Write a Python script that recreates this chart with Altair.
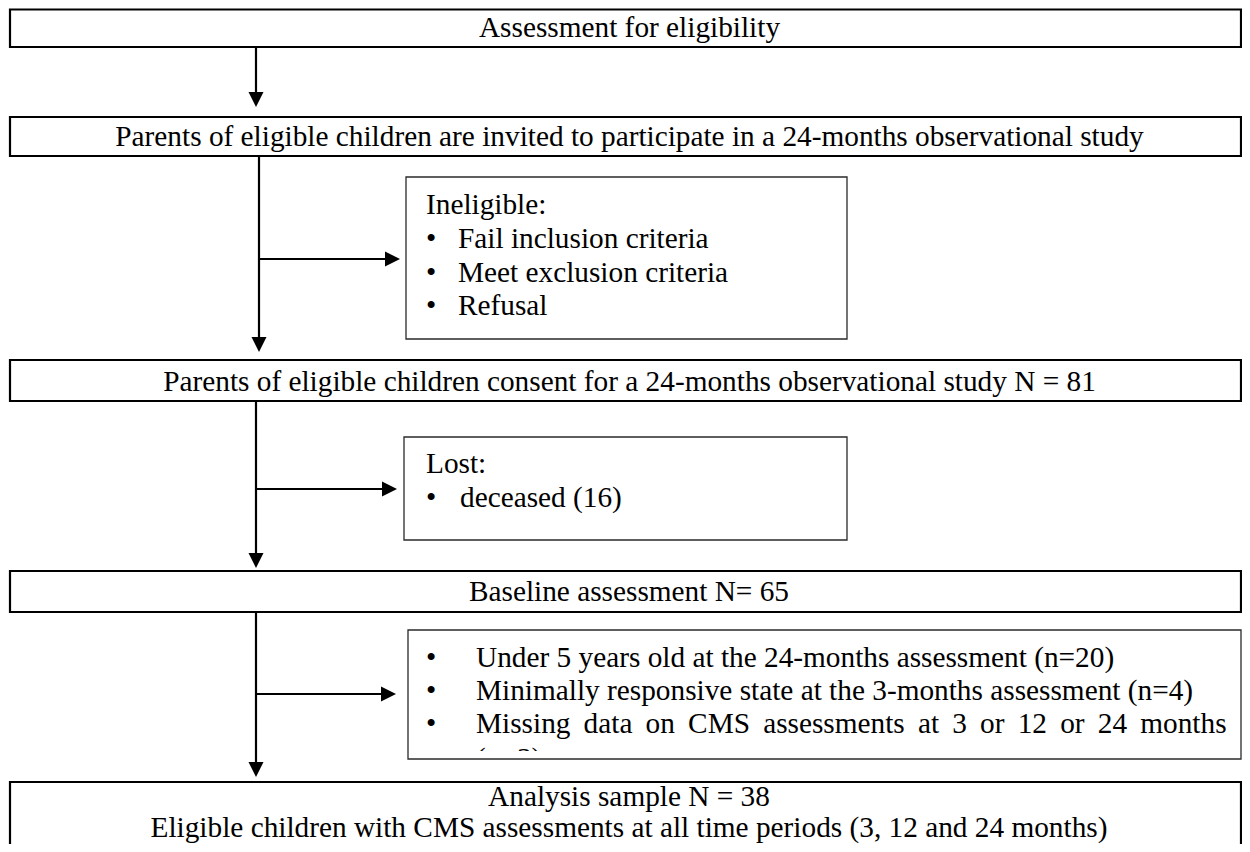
import altair as alt
import pandas as pd

FONT = "Liberation Serif"
FS = 29.3

# ---------------- content ----------------
main_labels = [
    "Assessment for eligibility",
    "Parents of eligible children are invited to participate in a 24-months observational study",
    "Parents of eligible children consent for a 24-months observational study N = 81",
    "Baseline assessment N= 65",
]
RIGHT = 1241  # right edge of the drawable page area
main_left = [10, 10, 10, 10]
main_right = [RIGHT, RIGHT, RIGHT, RIGHT]
main_top = [9.5, 117, 360, 571]
main_bottom = [47, 156, 401, 612]
main_baseline = [37, 146, 391, 601]
main_center = [629.5, 629.5, 629.5, 629]

final_lines = [
    "Analysis sample N = 38",
    "Eligible children with CMS assessments at all time periods (3, 12 and 24 months)",
]
final_baseline = [806, 837]
final_box = dict(x0=10, x1=RIGHT, y0=782, y1=900)

side_left = [406, 404, 408]
side_right = [847, 847, RIGHT]
side_top = [177, 437, 630]
side_bottom = [339, 540, 759]

side_headers = ["Ineligible:", "Lost:"]
side_header_x = [426, 426]
side_header_y = [214, 473]

TS = "\u2009"
bullet_items = [
    "Fail inclusion criteria",
    "Meet exclusion criteria",
    "Refusal",
    "deceased (16)",
    "Under 5 years old at the 24-months assessment (n=20)",
    "Minimally responsive state at the 3-months assessment (n=4)",
    (" " + TS).join("Missing data on CMS assessments at 3 or 12 or 24 months".split(" ")),
]
bullet_text_x = [458, 458, 458, 460, 476, 476, 476]
bullet_y = [248, 282, 315, 507, 667, 700, 733]
bullet_x = 431

overflow_line = "(n=3)"
overflow_x = 476
overflow_y = 768
mask_box = dict(x0=409, x1=RIGHT - 1, y0=751, y1=781)

# connectors: vertical (x, from y, arrow tip y)
v_x = [256, 259, 256, 256]
v_from = [47, 156, 401, 612]
v_tip = [107, 352, 568, 777]
# branches: (y, from x, arrow tip x)
h_y = [259, 489, 694]
h_from = [259, 257, 256]
h_tip = [400, 397, 396]

ARROW = 15  # arrowhead length in px

# ---------------- frames ----------------
main_df = pd.DataFrame(dict(x0=main_left, x1=main_right, y0=main_top, y1=main_bottom))
main_text_df = pd.DataFrame(dict(x=main_center, y=main_baseline, label=main_labels))
final_df = pd.DataFrame([final_box])
final_text_df = pd.DataFrame(dict(x=[629] * 2, y=final_baseline, label=final_lines))
side_df = pd.DataFrame(dict(x0=side_left, x1=side_right, y0=side_top, y1=side_bottom))
head_df = pd.DataFrame(dict(x=side_header_x, y=side_header_y, label=side_headers))
item_df = pd.DataFrame(dict(x=bullet_text_x, y=bullet_y, label=bullet_items))
dot_df = pd.DataFrame(dict(x=[bullet_x] * len(bullet_y), y=bullet_y, label=["•"] * len(bullet_y)))
over_df = pd.DataFrame(dict(x=[overflow_x], y=[overflow_y], label=[overflow_line]))
mask_df = pd.DataFrame([mask_box])

vrule_df = pd.DataFrame(dict(x=v_x, y0=v_from, y1=[t - ARROW + 2 for t in v_tip]))
vhead_df = pd.DataFrame(dict(x=v_x, y=[t - ARROW / 2 for t in v_tip]))
hrule_df = pd.DataFrame(dict(y=h_y, x0=h_from, x1=[t - ARROW + 2 for t in h_tip]))
hhead_df = pd.DataFrame(dict(y=h_y, x=[t - ARROW / 2 for t in h_tip]))

# ---------------- scales ----------------
W, H = 1234, 836
xs = alt.Scale(domain=[8, 8 + W], nice=False, zero=False)
ys = alt.Scale(domain=[8, 8 + H], nice=False, zero=False, reverse=True)


def X(f):
    return alt.X(f, type="quantitative", scale=xs, axis=None)


def Y(f):
    return alt.Y(f, type="quantitative", scale=ys, axis=None)


def boxes(df, **kw):
    return alt.Chart(df).mark_rect(**kw).encode(
        x=X("x0"), x2=alt.X2("x1"), y=Y("y0"), y2=alt.Y2("y1"))


def texts(df, align="left", size=FS):
    return alt.Chart(df).mark_text(
        align=align, baseline="alphabetic", font=FONT, fontSize=size, color="black"
    ).encode(x=X("x"), y=Y("y"), text="label:N")


layers = [
    boxes(main_df, fill="white", stroke="black", strokeWidth=2.2),
    boxes(final_df, fill="white", stroke="black", strokeWidth=2.2),
    boxes(side_df, fill="white"),
    texts(main_text_df, align="center"),
    texts(final_text_df, align="center"),
    texts(head_df),
    texts(item_df),
    texts(dot_df, align="center"),
    texts(over_df),
    boxes(mask_df, fill="white"),
    boxes(side_df, fill="white", fillOpacity=0, stroke="#2a2a2a", strokeWidth=1.3),
    alt.Chart(vrule_df).mark_rule(color="black", strokeWidth=2.2).encode(
        x=X("x"), y=Y("y0"), y2=alt.Y2("y1")),
    alt.Chart(hrule_df).mark_rule(color="black", strokeWidth=2.2).encode(
        y=Y("y"), x=X("x0"), x2=alt.X2("x1")),
    alt.Chart(vhead_df).mark_point(
        shape="M-1,-1L1,-1L0,1Z", filled=True, size=ARROW * ARROW, color="black",
        opacity=1, strokeWidth=0).encode(x=X("x"), y=Y("y")),
    alt.Chart(hhead_df).mark_point(
        shape="M-1,-1L1,0L-1,1Z", filled=True, size=ARROW * ARROW, color="black",
        opacity=1, strokeWidth=0).encode(x=X("x"), y=Y("y")),
]

chart = alt.layer(*layers).properties(
    width=W, height=H, padding=0, autosize="none", background="white"
).configure_view(stroke=None)

chart.save("out.html", embed_options={"renderer": "svg", "actions": False})
